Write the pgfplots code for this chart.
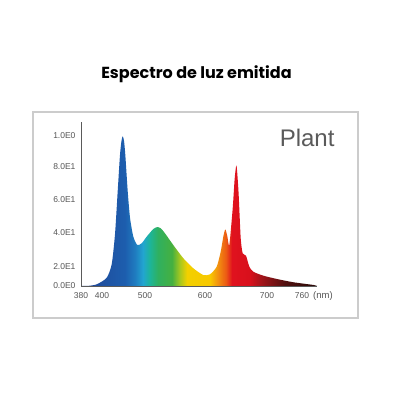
\documentclass[border=0pt]{standalone}
\usepackage{pgfplots}
\pgfplotsset{compat=1.18}
\usepackage{fontspec}
\setmainfont{Liberation Sans}
\newfontfamily\titlefont{Poppins}
\definecolor{framegray}{HTML}{CCCCCC}
\definecolor{axgray}{HTML}{5A5A5A}
\definecolor{labgray}{HTML}{555555}
\definecolor{c1}{HTML}{1F3F8F}
\definecolor{c2}{HTML}{1F4F9F}
\definecolor{c3}{HTML}{1D5EAE}
\definecolor{c4}{HTML}{1F7CC0}
\definecolor{c5}{HTML}{22A5D0}
\definecolor{c6}{HTML}{1DB598}
\definecolor{c7}{HTML}{2FB060}
\definecolor{c8}{HTML}{45B040}
\definecolor{c9}{HTML}{A8C81E}
\definecolor{c10}{HTML}{F2D000}
\definecolor{c11}{HTML}{F8C800}
\definecolor{c12}{HTML}{F29010}
\definecolor{c13}{HTML}{EC5A14}
\definecolor{c14}{HTML}{E0121E}
\definecolor{c15}{HTML}{D8101C}
\definecolor{c16}{HTML}{A0141A}
\definecolor{c17}{HTML}{50100E}
\definecolor{c18}{HTML}{2A0A08}
\pgfdeclarehorizontalshading{spectrum}{100bp}{color(0bp)=(c1); color(25bp)=(c1); color(29.03bp)=(c2); color(34.32bp)=(c3); color(36.44bp)=(c4); color(38.14bp)=(c5); color(39.62bp)=(c6); color(41.31bp)=(c7); color(44.28bp)=(c8); color(45.97bp)=(c9); color(47.46bp)=(c10); color(52.33bp)=(c11); color(54.03bp)=(c12); color(55.72bp)=(c13); color(56.99bp)=(c14); color(60.81bp)=(c15); color(63.35bp)=(c16); color(68.22bp)=(c17); color(75bp)=(c18); color(100bp)=(c18)}
\begin{document}
\begin{tikzpicture}[x=1pt,y=1pt]
\fill[white] (0,0) rectangle (393,393);
\draw[framegray, line width=1.7pt] (33,393-112) rectangle (358,393-318);
\node[anchor=base, font=\titlefont\bfseries\fontsize{16}{19}\selectfont] at (196.5,393-79) {Espectro de luz emitida};
\begin{axis}[
  at={(81pt,107pt)}, anchor=south west,
  scale only axis, width=236pt, height=164pt,
  xmin=81, xmax=317, ymin=0, ymax=1.0933,
  axis x line=bottom, axis y line=left,
  axis line style={-, draw=axgray, line width=0.7pt},
  major tick length=0pt,
  xtick={81,102,145,205,267,302},
  xticklabels={380,400,500,600,700,760},
  ytick={0,0.129,0.355,0.578,0.795,1.0},
  yticklabels={0.0E0,2.0E1,4.0E1,6.0E1,8.0E1,1.0E0},
  tick label style={font=\fontsize{8.5}{10}\selectfont, text=labgray},
  xticklabel style={yshift=-3pt},
  yticklabel style={xshift=-2pt},
  axis on top,
  clip=false,
]
\addplot[draw=none, shade, shading=spectrum, smooth, tension=0.4] coordinates {
(81,0) (87,0) (96.7,0.011) (106.7,0.055) (111.7,0.145) (115,0.345) (117.7,0.632) (120,0.875) (121.5,0.968) (122.7,0.998) (124,0.968) (125.3,0.875) (127.7,0.632) (130,0.455) (133.3,0.329) (137.3,0.273) (141.7,0.285) (146.7,0.329) (153.3,0.380) (157.5,0.393) (161,0.383) (165,0.351) (173.3,0.273) (183.3,0.185) (193.3,0.118) (203.3,0.073) (210,0.078) (216.7,0.129) (220.7,0.229) (223.3,0.329) (225.3,0.377) (227.3,0.333) (229.3,0.273) (232.7,0.518) (234.7,0.718) (236.5,0.803) (238.5,0.629) (240.7,0.318) (242.7,0.218) (246,0.202) (249.3,0.129) (253.3,0.095) (263.3,0.069) (276.7,0.047) (293.3,0.025) (313.3,0.007) (317,0)
} \closedcycle;
\end{axis}
\node[font=\fontsize{9.5}{11}\selectfont, text=labgray] at (323,393-296) {(nm)};
\node[anchor=base east, font=\fontsize{24}{28}\selectfont, text=axgray] at (338,393-146.5) {Plant};
\end{tikzpicture}
\end{document}
